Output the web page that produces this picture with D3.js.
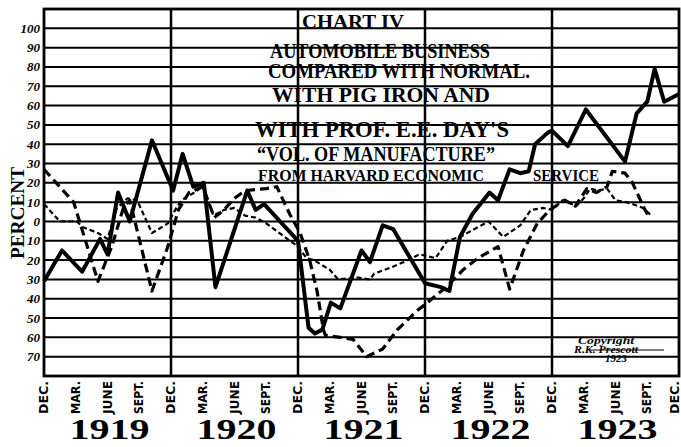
<!DOCTYPE html>
<html><head><meta charset="utf-8">
<script src="https://cdn.jsdelivr.net/npm/d3@7"></script>
<style>body{margin:0;background:#fff}svg{display:block}</style>
</head><body>
<svg id="c" width="681" height="447"></svg>
<script>
// ---- data ----
const monthTickLabels = ["DEC.", "MAR.", "JUNE", "SEPT."];
const yearLabels = ["1919", "1920", "1921", "1922", "1923"];
const yTickValues = [100, 90, 80, 70, 60, 50, 40, 30, 20, 10, 0, -10, -20, -30, -40, -50, -60, -70];
const titleLines = ["CHART IV", "AUTOMOBILE BUSINESS", "COMPARED WITH NORMAL.", "WITH PIG IRON AND",
  "WITH PROF. E.E. DAY'S", "\u201CVOL. OF MANUFACTURE\u201D", "FROM HARVARD ECONOMIC", "SERVICE"];
const copyrightLines = ["Copyright", "R.K. Prescott", "1923"];

// months counted from Dec. 1918
const autoMonths = [0, 1.7, 3.6, 5.3, 6.0, 7.0, 8.1, 10.2, 12.2, 13.1, 14.1, 15.1, 16.2, 19.2, 20.0, 20.8, 24.0, 25.0, 25.6, 26.3, 27.1, 28.0, 30.0, 30.8, 32.0, 33.0, 36.0, 37.5, 38.3, 39.3, 40.5, 42.1, 42.9, 44.0, 45.0, 45.8, 46.4, 47.6, 48.0, 49.5, 51.2, 54.9, 56.0, 57.0, 57.7, 58.6, 60.0];
const autoValues = [-31, -15, -26, -9, -17, 15, 0, 42, 16, 35, 18, 20, -34, 16, 6, 9, -10, -55, -58, -56, -42, -45, -15, -21, -2, -4, -32, -34, -36, -8, 4, 15, 11, 27, 25, 26, 40, 46, 47, 39, 58, 31, 56, 62, 79, 62, 66];

const pigMonths = [0, 2.8, 5.1, 6.4, 7.5, 8.1, 10.2, 11.7, 12.7, 13.7, 15.0, 16.1, 17.0, 18.0, 19.0, 21.0, 22.0, 23.2, 24.2, 25.1, 25.8, 26.4, 26.6, 28.0, 29.2, 30.5, 32.0, 33.4, 35.3, 36.0, 38.0, 39.6, 41.0, 42.9, 44.0, 45.3, 46.6, 47.8, 49.2, 50.2, 51.3, 52.2, 53.2, 53.7, 54.9, 55.6, 56.7, 57.1];
const pigValues = [27, 10, -31, -13, 7, 11, -36, -13, 6, 15, 18, 2, 6, 12, 16, 17, 18, 4, -6, -20, -36, -56, -59, -60, -61, -70, -66, -56, -46, -43, -34, -25, -19, -13, -35, -15, -1, 6, 11, 8, 17, 15, 18, 26, 25, 20, 7, 3];

const mfgMonths = [0, 1.5, 3.1, 3.7, 5.1, 6.0, 6.9, 7.9, 8.8, 10.2, 11.7, 12.5, 13.0, 14.2, 15.0, 16.0, 17.0, 18.0, 19.0, 20.0, 21.0, 22.5, 24.0, 24.8, 25.5, 27.0, 27.8, 29.6, 30.8, 31.2, 32.7, 34.0, 35.5, 37.0, 38.1, 39.3, 42.0, 43.4, 45.0, 46.0, 47.2, 48.0, 49.0, 50.3, 51.0, 51.6, 52.3, 53.2, 54.0, 55.0, 55.6, 56.6, 57.4];
const mfgValues = [9, 0, 0, -3, -6, -9, 7, 12, 11, -6, -1, 7, 11, 15, 18, 3, 6, 7, 3, 2, -1, -7, -13, -19, -20, -25, -30, -29, -30, -27, -24, -21, -17, -19, -10, -8, 0, -8, -2, 6, 7, 6, 11, 8, 12, 17, 16, 17, 11, 10, 9, 7, 3];

// ---- layout ----
const L = 44, R = 679, T = 9, B = 376;
const svg = d3.select("#c");
const x = d3.scaleLinear().domain([0, 60]).range([L, R]);
const y = d3.scaleLinear().domain([-80, 110]).range([B, T]);
const serif = "'Liberation Serif', 'DejaVu Serif', serif";

// gridlines
svg.append("g").selectAll("line").data(yTickValues).join("line")
  .attr("x1", L).attr("x2", R).attr("y1", d => y(d)).attr("y2", d => y(d))
  .attr("stroke", "#000").attr("stroke-width", 2);
// year separators
svg.append("g").selectAll("line").data(d3.range(12, 60, 12)).join("line")
  .attr("x1", d => x(d)).attr("x2", d => x(d)).attr("y1", T).attr("y2", B)
  .attr("stroke", "#000").attr("stroke-width", 2.5);
// frame
svg.append("rect").attr("x", L).attr("y", T).attr("width", R - L).attr("height", B - T)
  .attr("fill", "none").attr("stroke", "#000").attr("stroke-width", 2.8);

// y tick labels
svg.append("g").selectAll("text").data(yTickValues).join("text")
  .attr("x", 40).attr("y", d => y(d)).attr("dy", "0.35em")
  .attr("text-anchor", "end").attr("font-family", serif).attr("font-weight", "bold")
  .attr("font-style", "italic").attr("font-size", 13).text(d => Math.abs(d));

// PERCENT
svg.append("text").attr("transform", "translate(24,213) rotate(-90)")
  .attr("text-anchor", "middle").attr("font-family", serif).attr("font-weight", "bold")
  .attr("font-size", 19).attr("textLength", 92).attr("lengthAdjust", "spacingAndGlyphs")
  .text("PERCENT");

// month labels
svg.append("g").selectAll("text").data(d3.range(0, 61, 3)).join("text")
  .attr("transform", d => `translate(${Math.min(x(d), 675)},381) rotate(-90)`)
  .attr("dy", "0.36em").attr("text-anchor", "end")
  .attr("font-family", "'DejaVu Sans', sans-serif").attr("font-weight", "bold")
  .attr("font-size", 11.5).attr("textLength", 33).attr("lengthAdjust", "spacingAndGlyphs")
  .text(d => monthTickLabels[(d / 3) % 4]);

// year labels
svg.append("g").selectAll("text").data(yearLabels).join("text")
  .attr("x", (d, i) => x(6 + 12 * i) + 2).attr("y", 439)
  .attr("text-anchor", "middle").attr("font-family", serif).attr("font-weight", "bold")
  .attr("font-size", 29).attr("textLength", 80).attr("lengthAdjust", "spacingAndGlyphs")
  .text(d => d);

// title
const tl = [
  {cx: 353, y: 28, fs: 19, w: 102},
  {cx: 380, y: 58, fs: 20, w: 220},
  {cx: 399, y: 78, fs: 20, w: 262},
  {cx: 381, y: 102, fs: 20, w: 218},
  {cx: 382, y: 137, fs: 24, w: 254},
  {cx: 376, y: 161, fs: 21, w: 238},
  {cx: 371, y: 181, fs: 16, w: 226},
  {cx: 566, y: 181, fs: 16, w: 66}
];
svg.append("g").selectAll("text").data(titleLines).join("text")
  .attr("x", (d, i) => tl[i].cx).attr("y", (d, i) => tl[i].y)
  .attr("text-anchor", "middle").attr("font-family", serif).attr("font-weight", "bold")
  .attr("font-size", (d, i) => tl[i].fs).attr("textLength", (d, i) => tl[i].w)
  .attr("lengthAdjust", "spacingAndGlyphs").text(d => d);

// copyright
const cp = [{cx: 606, y: 344, w: 56}, {cx: 606, y: 353, w: 64}, {cx: 616, y: 362, w: 22}];
svg.append("g").selectAll("text").data(copyrightLines).join("text")
  .attr("x", (d, i) => cp[i].cx).attr("y", (d, i) => cp[i].y)
  .attr("text-anchor", "middle").attr("font-family", serif).attr("font-style", "italic")
  .attr("font-weight", "bold").attr("font-size", 9.5).attr("textLength", (d, i) => cp[i].w)
  .attr("lengthAdjust", "spacingAndGlyphs").text(d => d);
svg.append("line").attr("x1", 590).attr("x2", 664).attr("y1", 350).attr("y2", 350)
  .attr("stroke", "#000").attr("stroke-width", 1.2);

// lines
const line = d3.line().x(d => x(d[0])).y(d => y(d[1]));
const series = [
  {m: mfgMonths, v: mfgValues, w: 2.2, dash: "5,3"},
  {m: pigMonths, v: pigValues, w: 3.2, dash: "9,5"},
  {m: autoMonths, v: autoValues, w: 4, dash: null}
];
series.forEach(s => {
  svg.append("path").datum(s.m.map((m, i) => [m, s.v[i]]))
    .attr("d", line).attr("fill", "none").attr("stroke", "#000")
    .attr("stroke-width", s.w).attr("stroke-linejoin", "round")
    .attr("stroke-dasharray", s.dash);
});
</script>
</body></html>
